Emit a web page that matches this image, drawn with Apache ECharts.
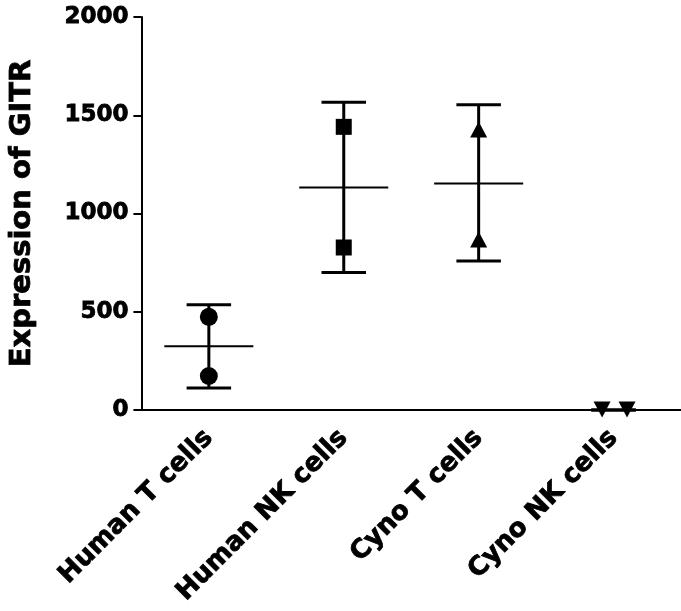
<!DOCTYPE html>
<html>
<head>
<meta charset="utf-8">
<style>
  html, body { margin: 0; padding: 0; background: #fff; }
  #chart { width: 681px; height: 611px; }
</style>
<script src="https://cdn.jsdelivr.net/npm/echarts@6/dist/echarts.min.js"></script>
</head>
<body>
<div id="chart"></div>
<script>
// groups on the x axis
var categories = ['Human T cells', 'Human NK cells', 'Cyno T cells', 'Cyno NK cells'];
// individual points per group
var humanT = [474, 173];
var humanNK = [1441, 827];
var cynoT = [1427, 868];
var cynoNK = [2, 2];
// mean line and error bar ends (mean +/- SD)
var means = [325, 1132, 1153, 0];
var lowers = [112, 700, 758, 0];
var uppers = [535, 1566, 1553, 0];
// y ticks
var yTicks = [0, 500, 1000, 1500, 2000];

var FONT = 'DejaVu Sans';
var chart = echarts.init(document.getElementById('chart'));

// spread for overlapping points (Cyno NK)
var spread = [-0.085, 0.1];

function pts(vals, idx, jit) {
	return vals.map(function(v, k) {
		return [idx + (jit ? jit[k] : 0), v];
	});
}

var barData = categories.map(function(c, i) {
	return [i, means[i], lowers[i], uppers[i]];
});

var dot = { color: '#000', opacity: 1 };

chart.setOption({
	animation: false,
	grid: { left: 141, right: 0, top: 17, bottom: 201 },
	xAxis: [{
		type: 'category',
		data: categories,
		boundaryGap: true,
		axisLine: { lineStyle: { color: '#000', width: 2 } },
		axisTick: { alignWithLabel: true, length: 7, lineStyle: { color: '#000', width: 2 } },
		axisLabel: {
			rotate: 45,
			margin: 24,
			color: '#000',
			fontFamily: FONT,
			fontWeight: 'bold',
			fontSize: 26,
			textBorderColor: '#000',
			textBorderWidth: 0.8
		},
		splitLine: { show: false }
	}, {
		type: 'value',
		min: -0.5,
		max: 3.5,
		show: false
	}],
	yAxis: {
		type: 'value',
		min: 0,
		max: 2000,
		interval: 500,
		name: 'Expression of GITR',
		nameLocation: 'middle',
		nameGap: 104,
		nameTextStyle: {
			color: '#000',
			fontFamily: FONT,
			fontWeight: 'bold',
			fontSize: 29,
			textBorderColor: '#000',
			textBorderWidth: 0.8
		},
		axisLine: { show: true, onZero: false, lineStyle: { color: '#000', width: 2 } },
		axisTick: { show: true, length: 8, lineStyle: { color: '#000', width: 2 } },
		axisLabel: {
			margin: 13,
			color: '#000',
			fontFamily: FONT,
			fontWeight: 'bold',
			fontSize: 23,
			textBorderColor: '#000',
			textBorderWidth: 0.8,
			formatter: function(v) { return yTicks.indexOf(v) >= 0 ? String(v) : ''; }
		},
		splitLine: { show: false }
	},
	series: [{
		type: 'custom',
		xAxisIndex: 1,
		clip: false,
		z: 2,
		data: barData,
		renderItem: function(params, api) {
			var x = api.value(0);
			var mid = api.coord([x, api.value(1)]);
			var lo = api.coord([x, api.value(2)]);
			var hi = api.coord([x, api.value(3)]);
			var bw = api.size([1, 0])[0];
			var cap = bw * 0.165;
			var half = bw * 0.33;
			var st = { stroke: '#000', lineWidth: 3 };
			return {
				type: 'group',
				children: [
					{ type: 'line', shape: { x1: hi[0], y1: hi[1], x2: lo[0], y2: lo[1] }, style: st },
					{ type: 'line', shape: { x1: hi[0] - cap, y1: hi[1], x2: hi[0] + cap, y2: hi[1] }, style: st },
					{ type: 'line', shape: { x1: lo[0] - cap, y1: lo[1], x2: lo[0] + cap, y2: lo[1] }, style: st },
					{ type: 'line', shape: { x1: mid[0] - half, y1: mid[1], x2: mid[0] + half, y2: mid[1] }, style: { stroke: '#000', lineWidth: 2 } }
				]
			};
		}
	}, {
		type: 'scatter',
		xAxisIndex: 1,
		clip: false,
		z: 3,
		symbol: 'circle',
		symbolSize: 18,
		itemStyle: dot,
		data: pts(humanT, 0)
	}, {
		type: 'scatter',
		xAxisIndex: 1,
		clip: false,
		z: 3,
		symbol: 'rect',
		symbolSize: 16,
		itemStyle: dot,
		data: pts(humanNK, 1)
	}, {
		type: 'scatter',
		xAxisIndex: 1,
		clip: false,
		z: 3,
		symbol: 'triangle',
		symbolSize: [17, 16],
		itemStyle: dot,
		data: pts(cynoT, 2)
	}, {
		type: 'scatter',
		xAxisIndex: 1,
		clip: false,
		z: 3,
		symbol: 'triangle',
		symbolRotate: 180,
		symbolSize: [17, 16],
		itemStyle: dot,
		data: pts(cynoNK, 3, spread)
	}]
});
</script>
</body>
</html>
